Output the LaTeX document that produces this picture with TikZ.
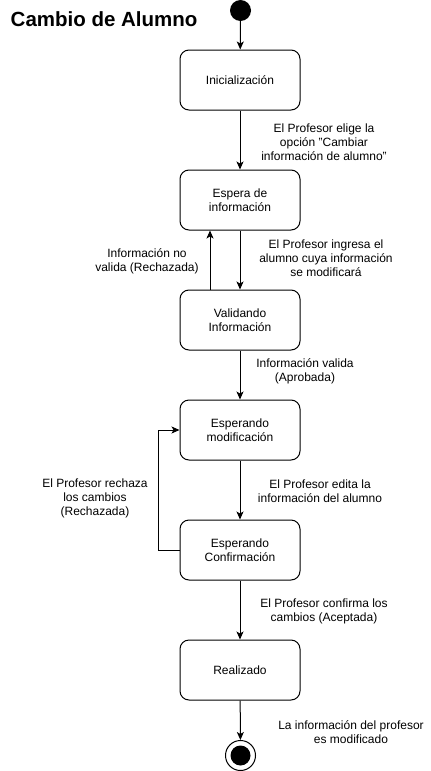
\documentclass[tikz,border=0pt]{standalone}
\usepackage{fontspec}
\setmainfont{Liberation Sans}
\usetikzlibrary{arrows.meta}
\definecolor{negro}{HTML}{000000}

\begin{document}
\begin{tikzpicture}[x=1pt,y=-1pt,
  estado/.style={draw=negro,line width=1pt,rounded corners=9pt,minimum width=120pt,
    minimum height=60pt,align=center,font=\fontsize{12}{14}\selectfont},
  etiqueta/.style={align=center,inner sep=0pt,font=\fontsize{12}{14}\selectfont},
  flecha/.style={-{Stealth[length=8pt,width=7pt,inset=2pt]},line width=1pt,draw=negro}]
\useasboundingbox (0,0) rectangle (431,771);
% titulo
\node[anchor=base west,inner sep=0pt,font=\bfseries\fontsize{20.5}{24}\selectfont] (titulo) at (10.5,27) {Cambio de Alumno};
% estados
\node[circle,fill=negro,inner sep=0pt,minimum size=21pt] (inicio) at (240.5,10.5) {};
\node[estado] (inic) at (240,80) {Inicialización};
\node[estado] (espera) at (240,200) {Espera de\\información};
\node[estado] (valid) at (240,320) {Validando\\Información};
\node[estado] (espmod) at (240,430) {Esperando\\modificación};
\node[estado] (espconf) at (240,550) {Esperando\\Confirmación};
\node[estado] (real) at (240,670) {Realizado};
\node[circle,draw=negro,line width=1pt,inner sep=0pt,minimum size=30pt] (fin) at (240.5,755.5) {};
\node[circle,fill=negro,inner sep=0pt,minimum size=20pt] (finc) at (fin) {};
% transiciones
\draw[flecha] (inicio) -- (inic);
\draw[flecha] (inic) -- (espera);
\draw[flecha] (espera) -- (valid);
\draw[flecha] ([xshift=-30pt]valid.north) -- ([xshift=-30pt]espera.south);
\draw[flecha] (valid) -- (espmod);
\draw[flecha] (espmod) -- (espconf);
\draw[flecha] (espconf.west) -- ++(-21,0) |- (espmod.west);
\draw[flecha] (espconf) -- (real);
\draw[flecha] (real) -- (fin);
% etiquetas
\node[etiqueta] (e1) at (324,142) {El Profesor elige la\\opción "Cambiar\\información de alumno"};
\node[etiqueta] (e2) at (326,258) {El Profesor ingresa el\\alumno cuya información\\se modificará};
\node[etiqueta] (e3) at (147,261) {Información no\\valida (Rechazada)};
\node[etiqueta] (e4) at (305,371) {Información valida\\(Aprobada)};
\node[etiqueta] (e5) at (320,491) {El Profesor edita la\\información del alumno};
\node[etiqueta] (e6) at (95,498) {El Profesor rechaza\\los cambios\\(Rechazada)};
\node[etiqueta] (e7) at (324,611) {El Profesor confirma los\\cambios (Aceptada)};
\node[etiqueta] (e8) at (351,732) {La información del profesor\\es modificado};
\end{tikzpicture}
\end{document}
